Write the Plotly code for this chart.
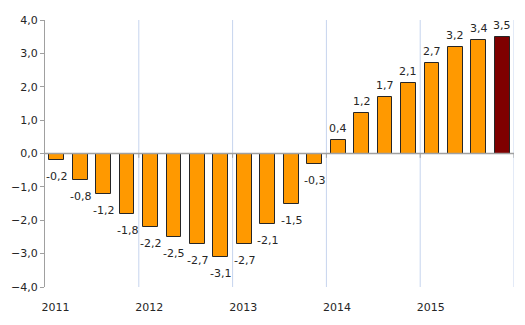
import plotly.graph_objects as go

years = ["2011", "2012", "2013", "2014", "2015"]
values = [-0.2, -0.8, -1.2, -1.8, -2.2, -2.5, -2.7, -3.1, -2.7, -2.1, -1.5, -0.3,
          0.4, 1.2, 1.7, 2.1, 2.7, 3.2, 3.4, 3.5]
colors = ["#FF9900"] * (len(values) - 1) + ["#7F0000"]
labels = [f"{v:.1f}".replace(".", ",") for v in values]
xpos = [i + 0.5 for i in range(len(values))]

fig = go.Figure()
fig.add_trace(go.Bar(
    x=xpos, y=values, width=0.63,
    marker=dict(color=colors, line=dict(color="#262626", width=1)),
    hoverinfo="skip",
))

annotations = []
for xv, v, t in zip(xpos, values, labels):
    pos = v >= 0
    annotations.append(dict(
        x=xv, y=v, xref="x", yref="y", text=t, showarrow=False,
        yanchor="bottom" if pos else "top", xanchor="center",
        yshift=3 if pos else -8,
        font=dict(family="DejaVu Sans", size=11, color="#262626"),
    ))

shapes = []
for k in range(1, 6):
    xv = 4 * k
    shapes.append(dict(type="line", xref="x", yref="y", x0=xv, x1=xv, y0=-4, y1=4,
                       line=dict(color="#C6D4EE", width=1), layer="below"))
shapes.append(dict(type="line", xref="x", yref="y", x0=0, x1=20, y0=0, y1=0,
                   line=dict(color="#A0A0A0", width=1.5), layer="above"))
for k in range(1, 6):
    xv = 4 * k
    shapes.append(dict(type="line", xref="x", yref="y", x0=xv, x1=xv, y0=0, y1=-0.13,
                       line=dict(color="#A0A0A0", width=1), layer="above"))

fig.update_layout(
    width=525, height=325,
    margin=dict(l=39, r=11, t=20, b=38),
    paper_bgcolor="white", plot_bgcolor="white",
    showlegend=False,
    shapes=shapes,
    annotations=annotations,
    font=dict(family="DejaVu Sans", size=11, color="#262626"),
    xaxis=dict(range=[0, 20], tickvals=[4 * i + 0.45 for i in range(5)], ticktext=years,
               showgrid=False, zeroline=False, showline=False, ticks="",
               ticklabelstandoff=12, fixedrange=True),
    yaxis=dict(range=[-4, 4], dtick=1, tickformat=".1f",
               showgrid=False, zeroline=False, showline=True, linecolor="#A0A0A0",
               ticks="outside", ticklen=4, tickcolor="#A0A0A0"),
    separators=",.",
    bargap=0,
)
fig.write_html("out.html")
